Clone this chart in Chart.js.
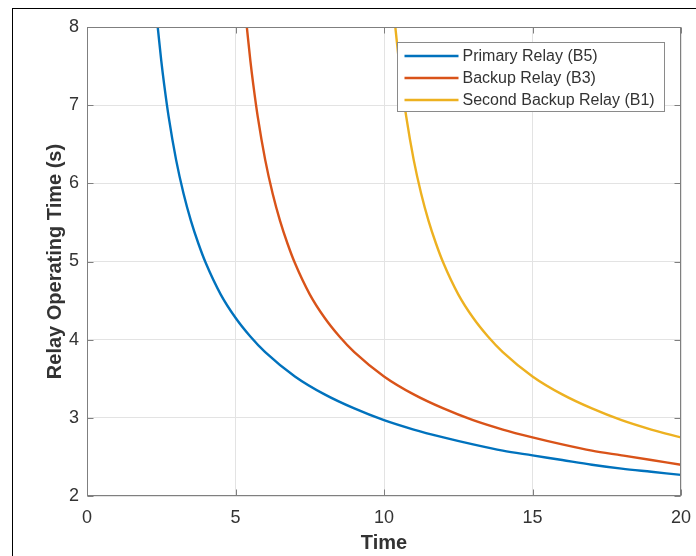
<!DOCTYPE html>
<html>
<head>
<meta charset="utf-8">
<script src="https://cdn.jsdelivr.net/npm/chart.js@4.4.0/dist/chart.umd.min.js"></script>
<style>
  html, body { margin: 0; padding: 0; background: #fff; }
  #wrap { position: relative; width: 696px; height: 556px; }
  #frame { position: absolute; left: 12px; top: 8px; right: 0; bottom: 0;
           border-left: 1px solid #000; border-top: 1px solid #000; pointer-events: none; }
</style>
</head>
<body>
<div id="wrap">
  <canvas id="myChart" width="696" height="556"></canvas>
  <div id="frame"></div>
</div>
<script>
// values
const seriesNames = ["Primary Relay (B5)", "Backup Relay (B3)", "Second Backup Relay (B1)"];
const seriesColors = ["#0072BD", "#D95319", "#EDB120"];

const primaryX = [2.36, 2.4, 2.5, 2.6, 2.75, 3, 3.25, 3.5, 3.75, 4, 4.5, 5, 5.5, 6, 7, 8, 9, 10, 11, 12, 13, 14, 15, 16, 17, 18, 19, 20];
const primaryY = [8.08, 7.93, 7.57, 7.26, 6.85, 6.30, 5.87, 5.52, 5.23, 4.98, 4.58, 4.28, 4.04, 3.84, 3.53, 3.30, 3.12, 2.97, 2.85, 2.75, 2.66, 2.58, 2.52, 2.46, 2.40, 2.35, 2.31, 2.27];

const backupX = [5.36, 5.4, 5.5, 5.6, 5.75, 6, 6.25, 6.5, 6.75, 7, 7.5, 8, 8.5, 9, 10, 11, 12, 13, 14, 15, 16, 17, 18, 19, 20];
const backupY = [8.08, 7.93, 7.57, 7.26, 6.85, 6.30, 5.87, 5.52, 5.23, 4.98, 4.58, 4.28, 4.04, 3.84, 3.53, 3.30, 3.12, 2.97, 2.85, 2.75, 2.66, 2.58, 2.52, 2.46, 2.40];

const secondX = [10.36, 10.4, 10.5, 10.6, 10.75, 11, 11.25, 11.5, 11.75, 12, 12.5, 13, 13.5, 14, 15, 16, 17, 18, 19, 20];
const secondY = [8.08, 7.93, 7.57, 7.26, 6.85, 6.30, 5.87, 5.52, 5.23, 4.98, 4.58, 4.28, 4.04, 3.84, 3.53, 3.30, 3.12, 2.97, 2.85, 2.75];

const xTicks = [0, 5, 10, 15, 20];
const yTicks = [2, 3, 4, 5, 6, 7, 8];

const axisColor = "#7f7f7f";
const gridColor = "#e3e3e3";
const textColor = "#333333";
const fontFamily = "'Liberation Sans', Arial, Helvetica, sans-serif";

function toPoints(xs, ys) {
  return xs.map((x, i) => ({ x: x, y: ys[i] }));
}

// box, inward ticks and the legend, MATLAB style
const matlabAxes = {
  id: 'matlabAxes',
  afterDatasetsDraw(chart) {
    const ctx = chart.ctx;
    const a = chart.chartArea;
    const xs = chart.scales.x, ys = chart.scales.y;
    const L = Math.round(a.left) + 0.5, R = Math.round(a.right) - 0.5;
    const T = Math.round(a.top) + 0.5, B = Math.round(a.bottom) - 0.5;
    const tl = 6;

    ctx.save();
    ctx.strokeStyle = axisColor;
    ctx.lineWidth = 1;
    ctx.strokeRect(L, T, R - L, B - T);

    ctx.beginPath();
    xTicks.forEach(v => {
      const px = Math.round(xs.getPixelForValue(v)) + 0.5;
      ctx.moveTo(px, B); ctx.lineTo(px, B - tl);
      ctx.moveTo(px, T); ctx.lineTo(px, T + tl);
    });
    yTicks.forEach(v => {
      const py = Math.round(ys.getPixelForValue(v)) + 0.5;
      ctx.moveTo(L, py); ctx.lineTo(L + tl, py);
      ctx.moveTo(R, py); ctx.lineTo(R - tl, py);
    });
    ctx.stroke();

    // legend box in the upper right corner
    const boxR = R - 16, boxT = T + 15;
    const boxW = 267, boxH = 69;
    const boxL = boxR - boxW;
    ctx.fillStyle = "#ffffff";
    ctx.fillRect(boxL, boxT, boxW, boxH);
    ctx.strokeStyle = "#8a8a8a";
    ctx.strokeRect(boxL, boxT, boxW, boxH);

    ctx.font = "16px " + fontFamily;
    ctx.textBaseline = "middle";
    ctx.textAlign = "left";
    chart.data.datasets.forEach((ds, i) => {
      const cy = boxT + 13.5 + i * 22;
      ctx.strokeStyle = ds.borderColor;
      ctx.lineWidth = 2.4;
      ctx.beginPath();
      ctx.moveTo(boxL + 7, cy);
      ctx.lineTo(boxL + 61, cy);
      ctx.stroke();
      ctx.fillStyle = textColor;
      ctx.fillText(ds.label, boxL + 65, cy + 1);
    });
    ctx.restore();
  }
};

const data = {
  datasets: [
    { label: seriesNames[0], data: toPoints(primaryX, primaryY), borderColor: seriesColors[0] },
    { label: seriesNames[1], data: toPoints(backupX, backupY), borderColor: seriesColors[1] },
    { label: seriesNames[2], data: toPoints(secondX, secondY), borderColor: seriesColors[2] }
  ]
};

const config = {
  type: "line",
  data: data,
  options: {
    responsive: false,
    animation: false,
    devicePixelRatio: 1,
    parsing: false,
    layout: { padding: { left: 0, right: 15, top: 27, bottom: 0 } },
    elements: {
      point: { radius: 0 },
      line: { borderWidth: 2.4, cubicInterpolationMode: "monotone", fill: false }
    },
    plugins: {
      legend: { display: false },
      tooltip: { enabled: false }
    },
    scales: {
      x: {
        type: "linear",
        min: 0, max: 20,
        afterFit: (s) => { s.height = 60; s.paddingLeft = 0; s.paddingRight = 0; },
        afterBuildTicks: (s) => { s.ticks = xTicks.map(v => ({ value: v })); },
        grid: { color: gridColor, drawTicks: false },
        border: { display: false },
        ticks: {
          padding: 11,
          color: textColor,
          font: { family: fontFamily, size: 18 },
          maxRotation: 0
        },
        title: {
          display: true,
          text: "Time",
          color: textColor,
          font: { family: fontFamily, size: 20, weight: "bold" },
          padding: { top: 0, bottom: 1 }
        }
      },
      y: {
        type: "linear",
        min: 2, max: 8,
        afterFit: (s) => { s.width = 87; },
        afterBuildTicks: (s) => { s.ticks = yTicks.map(v => ({ value: v })); },
        grid: { color: gridColor, drawTicks: false },
        border: { display: false },
        ticks: {
          padding: 8,
          color: textColor,
          font: { family: fontFamily, size: 18 }
        },
        title: {
          display: true,
          text: "Relay Operating Time (s)",
          color: textColor,
          font: { family: fontFamily, size: 20, weight: "bold" },
          padding: { top: 43, bottom: 0 }
        }
      }
    }
  },
  plugins: [matlabAxes]
};

new Chart(document.getElementById("myChart"), config);
</script>
</body>
</html>
